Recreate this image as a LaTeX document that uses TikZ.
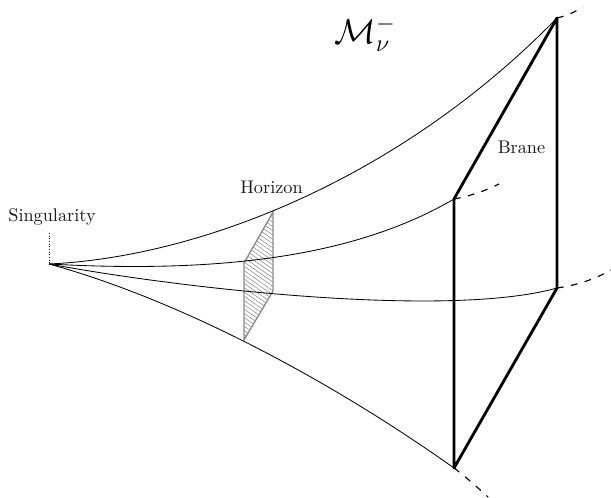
\documentclass[tikz,border=0pt]{standalone}
\usepackage{amsmath, amssymb}
\usetikzlibrary{patterns.meta, positioning}
\tikzset{
  % Geodesics from the singularity.
  ray/.style={draw=black, line width=0.5pt},
  % Continuation past the brane.
  ray-out/.style={draw=black, line width=0.7pt, dash pattern=on 4pt off 4.5pt},
  % Edges of the brane.
  brane/.style={draw=black, line width=1.7pt, line join=round},
  % Hatched horizon patch.
  horizon/.style={
    draw=black!45, line width=0.8pt,
    pattern={Lines[angle=-35, distance=2.1pt, line width=0.3pt]},
    pattern color=black!50,
  },
  label-text/.style={font=\fontsize{10.95}{13}\selectfont, text=black!90, inner sep=0pt},
}

\begin{document}
\begin{tikzpicture}[x=0.6pt, y=-0.6pt]
  \useasboundingbox (0,0) rectangle (611,497);

  % Corners.
  \coordinate (apex) at (49,264);
  \coordinate (top) at (557,18);
  \coordinate (front) at (454,199);
  \coordinate (back) at (557,288);
  \coordinate (bot) at (454,468);

  % Free ends of the dashed parts.
  \coordinate (topend) at (583,7);
  \coordinate (frontend) at (499,184);
  \coordinate (backend) at (611,270);
  \coordinate (botend) at (488,497);
  \coordinate (singend) at (49,233);

  % Horizon patch.
  \coordinate (hora) at (273,212);
  \coordinate (horb) at (244,263);
  \coordinate (horc) at (244,340);
  \coordinate (hord) at (273,291);
  \draw[horizon] (hora) -- (horb) -- (horc) -- (hord) -- cycle;

  % Rays.
  \draw[ray] (apex) .. controls (200,257) and (400,179) .. (top);
  \draw[ray] (apex) .. controls (230,274) and (360,254) .. (front);
  \draw[ray] (apex) .. controls (190,290) and (450,318) .. (back);
  \draw[ray] (apex) .. controls (180,300) and (330,380) .. (bot);

  % Past the brane.
  \draw[ray-out] (top) .. controls (566,16) and (575,12) .. (topend);
  \draw[ray-out] (front) .. controls (470,196) and (485,191) .. (frontend);
  \draw[ray-out] (back) .. controls (578,285) and (595,279) .. (backend);
  \draw[ray-out] (bot) .. controls (466,477) and (477,487) .. (botend);

  % Brane.
  \draw[brane] (front) -- (top) -- (back) -- (bot) -- cycle;

  % Labels.
  \node[label-text] (sing) at (52,217) {Singularity};
  \node[label-text] (hor) at (271.5,187) {Horizon};
  \node[label-text] (bra) at (521.5,147) {Brane};
  \node[inner sep=0pt, font=\fontsize{22}{26}\selectfont] (bulk) at (365,34) {$\mathcal{M}_\nu^-$};
  \draw[densely dotted, line width=0.6pt] (singend) -- (apex);

\end{tikzpicture}
\end{document}
